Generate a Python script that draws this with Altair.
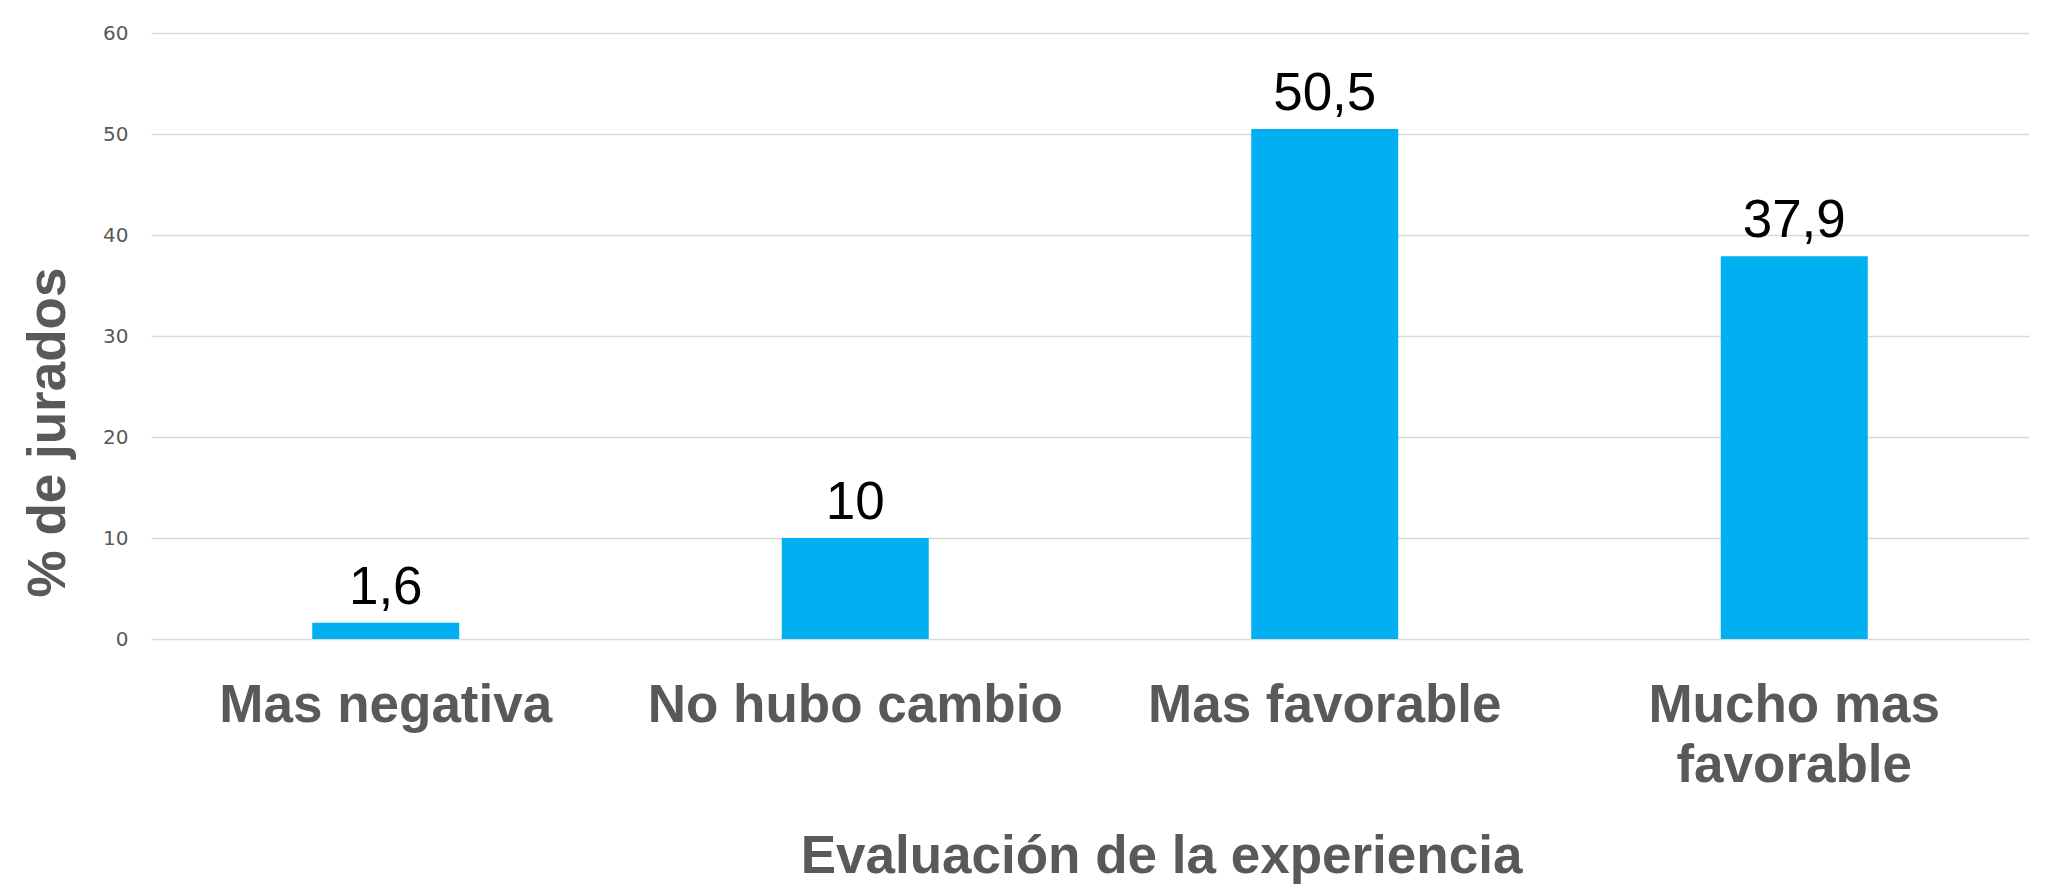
import altair as alt
import pandas as pd

categories = ["Mas negativa", "No hubo cambio", "Mas favorable", "Mucho mas favorable"]
values = [1.6, 10, 50.5, 37.9]
y_ticks = [0, 10, 20, 30, 40, 50, 60]

df = pd.DataFrame({"cat": categories, "val": values})

GRAY = "#595959"

x_axis = alt.Axis(
    title="Evaluación de la experiencia",
    labelAngle=0,
    labelFont="Liberation Sans",
    labelFontWeight="bold",
    labelFontSize=53,
    labelColor=GRAY,
    labelPadding=40,
    labelLineHeight=60,
    labelBaseline="top",
    labelLimit=0,
    labelExpr="datum.value == 'Mucho mas favorable' ? ['Mucho mas', 'favorable'] : datum.value",
    ticks=False,
    domain=False,
    grid=False,
    titleFont="Liberation Sans",
    titleFontWeight="bold",
    titleFontSize=53,
    titleColor=GRAY,
    titleX=1010,
    titleY=233,
    titleAlign="center",
    titleBaseline="alphabetic",
    titleLimit=0,
)

y_axis = alt.Axis(
    title="% de jurados",
    values=y_ticks,
    labelFont="DejaVu Sans",
    labelFontSize=20,
    labelColor=GRAY,
    labelPadding=23,
    ticks=False,
    domain=False,
    grid=True,
    gridColor="#d9d9d9",
    gridWidth=1.5,
    titleFont="Liberation Sans",
    titleFontWeight="bold",
    titleFontSize=53,
    titleColor=GRAY,
    titleAngle=-90,
    titleX=-87,
    titleY=399,
    titleAlign="center",
    titleBaseline="alphabetic",
    titleLimit=0,
)

x_enc = alt.X(
    "cat:N",
    sort=categories,
    scale=alt.Scale(paddingInner=0, paddingOuter=0),
    axis=x_axis,
)

y_enc = alt.Y("val:Q", scale=alt.Scale(domain=[0, 60], nice=False), axis=y_axis)

bars = alt.Chart(df).mark_bar(color="#00B0F0", size=147).encode(x=x_enc, y=y_enc)

labels = (
    alt.Chart(df)
    .transform_calculate(lbl="replace(toString(datum.val), '.', ',')")
    .mark_text(
        font="Liberation Sans",
        fontSize=53,
        color="black",
        baseline="alphabetic",
        dy=-19,
    )
    .encode(x=x_enc, y=y_enc, text="lbl:N")
)

chart = (
    alt.layer(bars, labels)
    .properties(
        width=1878,
        height=606,
        background="white",
        autosize=alt.AutoSizeParams(type="none"),
        padding={"left": 143, "top": 25, "right": 10, "bottom": 246},
    )
    .configure_view(stroke=None, strokeWidth=0)
    .configure_axisX(grid=False)
)

chart.save("out.html", embed_options={"renderer": "svg", "actions": False})
